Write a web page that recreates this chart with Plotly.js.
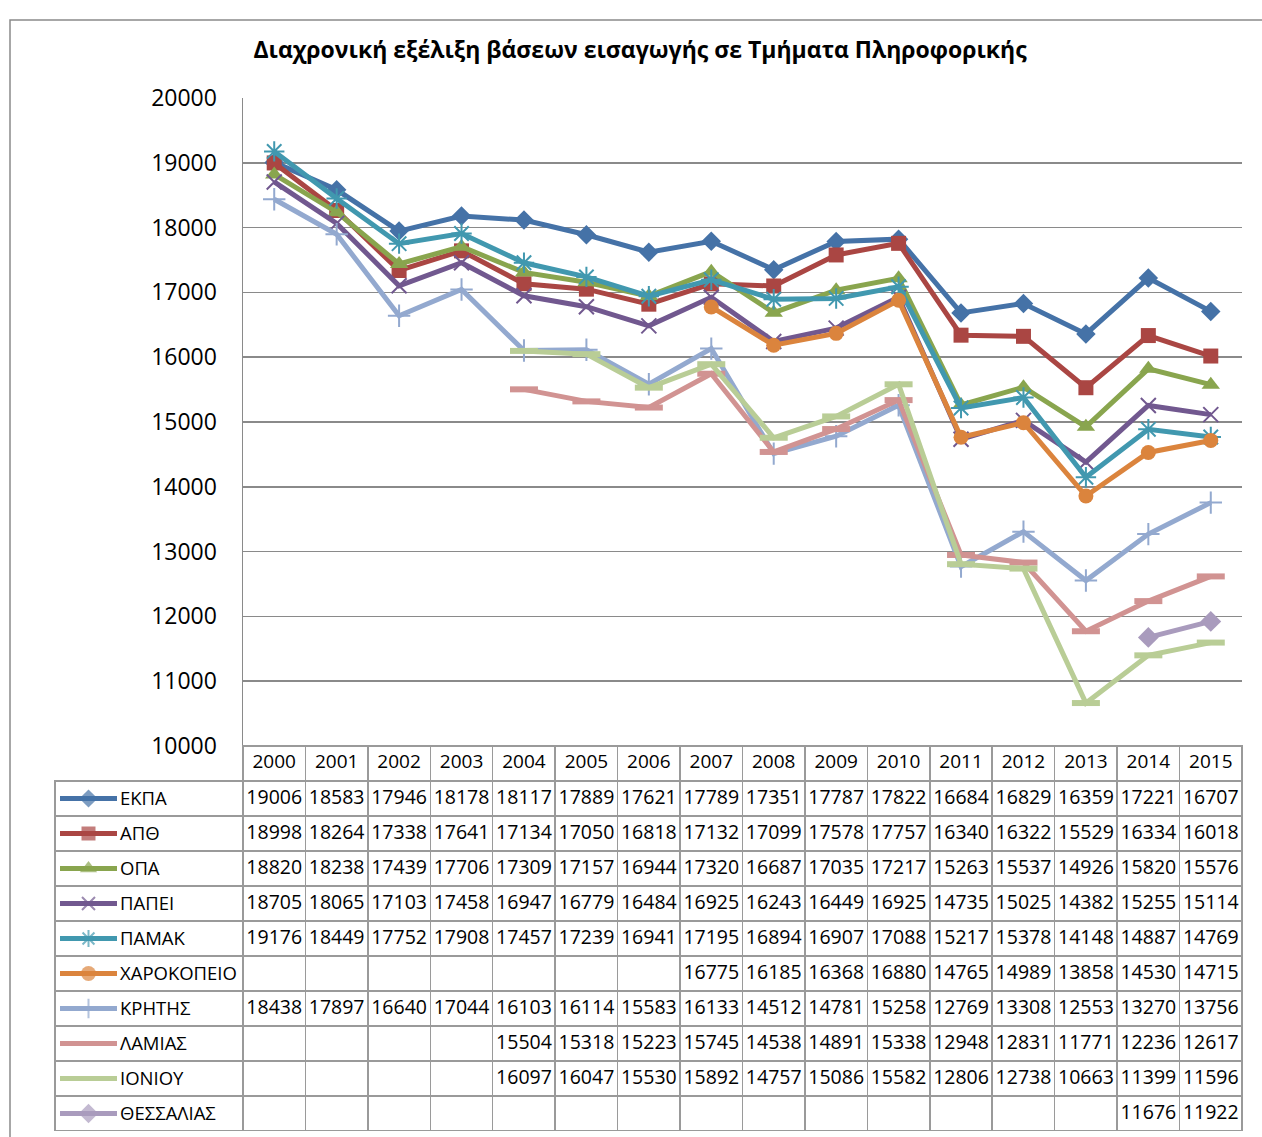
<!DOCTYPE html>
<html>
<head>
<meta charset="utf-8">
<script src="https://cdn.plot.ly/plotly-3.0.1.min.js"></script>
<style>html,body{margin:0;padding:0;background:#fff;}#chart{width:1262px;height:1137px;}</style>
</head>
<body>
<div id="chart"></div>
<script>
const years = ['2000','2001','2002','2003','2004','2005','2006','2007','2008','2009','2010','2011','2012','2013','2014','2015'];
const names = ['ΕΚΠΑ','ΑΠΘ','ΟΠΑ','ΠΑΠΕΙ','ΠΑΜΑΚ','ΧΑΡΟΚΟΠΕΙΟ','ΚΡΗΤΗΣ','ΛΑΜΙΑΣ','ΙΟΝΙΟΥ','ΘΕΣΣΑΛΙΑΣ'];
const ekpa   = [19006,18583,17946,18178,18117,17889,17621,17789,17351,17787,17822,16684,16829,16359,17221,16707];
const apth   = [18998,18264,17338,17641,17134,17050,16818,17132,17099,17578,17757,16340,16322,15529,16334,16018];
const opa    = [18820,18238,17439,17706,17309,17157,16944,17320,16687,17035,17217,15263,15537,14926,15820,15576];
const papei  = [18705,18065,17103,17458,16947,16779,16484,16925,16243,16449,16925,14735,15025,14382,15255,15114];
const pamak  = [19176,18449,17752,17908,17457,17239,16941,17195,16894,16907,17088,15217,15378,14148,14887,14769];
const xarok  = [null,null,null,null,null,null,null,16775,16185,16368,16880,14765,14989,13858,14530,14715];
const kritis = [18438,17897,16640,17044,16103,16114,15583,16133,14512,14781,15258,12769,13308,12553,13270,13756];
const lamias = [null,null,null,null,15504,15318,15223,15745,14538,14891,15338,12948,12831,11771,12236,12617];
const ioniou = [null,null,null,null,16097,16047,15530,15892,14757,15086,15582,12806,12738,10663,11399,11596];
const thess  = [null,null,null,null,null,null,null,null,null,null,null,null,null,null,11676,11922];

const seriesVals = [ekpa, apth, opa, papei, pamak, xarok, kritis, lamias, ioniou, thess];
const colors = ['#4572A7','#AA4643','#89A54E','#71588F','#4198AF','#DB843D','#93A9CF','#D19392','#B9CD96','#A99BBD'];
const symbols = ['diamond','square','triangle-up','x-thin-open','asterisk-open','circle','cross-thin-open','line-ew-open','line-ew-open','diamond'];
const msizes = [15,15,16,15,17,15,16,20,20,16];
const mline = [0,0,0,2,2,0,2,6,6,0];
const iconSizes = [14,14,15,13,14,15,14,0,0,15];

const W = 1262, H = 1137;
const px = v => v / W;
const py = v => (H - v) / H;

const traces = [];
seriesVals.forEach((vals, i) => {
  traces.push({
    type: 'scatter', mode: 'lines+markers', x: years, y: vals, name: names[i],
    line: {color: colors[i], width: 5},
    marker: {symbol: symbols[i], size: msizes[i], color: colors[i],
             line: {color: colors[i], width: mline[i]}},
    connectgaps: false, showlegend: false, hoverinfo: 'x+y+name',
    xaxis: 'x', yaxis: 'y'
  });
});

// legend keys inside the data table
seriesVals.forEach((vals, i) => {
  traces.push({
    type: 'scatter', mode: 'lines+markers', x: [0, 0.5, 1], y: [i, i, i],
    line: {color: colors[i], width: 5},
    marker: {symbol: symbols[i], size: [0, iconSizes[i], 0], color: colors[i],
             line: {color: colors[i], width: mline[i] ? 2 : 0}},
    showlegend: false, hoverinfo: 'skip', xaxis: 'x2', yaxis: 'y2'
  });
});

// data table
const headerVals = [''].concat(years);
const cellVals = [names.map(() => '')].concat(years.map((y, j) => seriesVals.map(s => s[j] == null ? '' : String(s[j]))));
const colW = [188].concat(years.map(() => 62.44));
const lineCol = '#9a9a9a';
traces.push({
  type: 'table',
  domain: {x: [px(55), px(1242)], y: [py(1131), py(746)]},
  columnwidth: colW,
  header: {
    values: headerVals, height: 35, align: 'center',
    fill: {color: 'rgba(0,0,0,0)'},
    line: {color: headerVals.map((v, k) => k === 0 ? 'rgba(0,0,0,0)' : lineCol), width: 1.5},
    font: {family: 'Open Sans', size: 19, color: '#000'}
  },
  cells: {
    values: cellVals, height: 35, align: 'center',
    fill: {color: 'rgba(0,0,0,0)'},
    line: {color: lineCol, width: 1.5},
    font: {family: 'Open Sans', size: 19.5, color: '#000'}
  }
});

const annotations = names.map((n, i) => ({
  xref: 'x2', yref: 'y2', x: 1, y: i, xanchor: 'left', yanchor: 'middle', xshift: 1, yshift: 1,
  text: n, showarrow: false, font: {family: 'Open Sans', size: 18.5, color: '#000'}
}));

const layout = {
  width: W, height: H,
  margin: {l: 0, r: 0, t: 0, b: 0},
  paper_bgcolor: '#fff', plot_bgcolor: 'rgba(0,0,0,0)',
  font: {family: 'Open Sans', color: '#000'},
  title: {text: 'Διαχρονική εξέλιξη βάσεων εισαγωγής σε Τμήματα Πληροφορικής',
          x: px(640), y: py(50), xanchor: 'center', yanchor: 'middle', xref: 'paper', yref: 'paper',
          font: {family: 'Open Sans', size: 23, color: '#000', weight: 'bold'}},
  xaxis: {type: 'category', domain: [px(243), px(1242)], range: [-0.5, 15.5],
          showticklabels: false, showgrid: false, zeroline: false, showline: false, ticks: '',
          fixedrange: true},
  yaxis: {domain: [py(746), py(98)], range: [10000, 20000], dtick: 1000, tick0: 10000,
          tickformat: 'd',
          showgrid: true, gridcolor: '#8a8a8a', gridwidth: 1.5, zeroline: false,
          showline: true, linecolor: '#8a8a8a', linewidth: 1.5,
          ticks: 'outside', ticklen: 20, tickcolor: 'rgba(0,0,0,0)',
          tickfont: {family: 'Open Sans', size: 23, color: '#000'}, fixedrange: true},
  xaxis2: {domain: [px(60), px(117)], range: [0, 1], anchor: 'y2', visible: false, fixedrange: true},
  yaxis2: {domain: [py(1131), py(781)], range: [9.5, -0.5], anchor: 'x2', visible: false, fixedrange: true},
  annotations: annotations,
  shapes: [{type: 'rect', xref: 'paper', yref: 'paper', x0: px(10), x1: 1.02, y0: -0.02, y1: py(20),
            line: {color: '#8a8a8a', width: 1.5}, fillcolor: 'rgba(0,0,0,0)', layer: 'below'}]
};

Plotly.newPlot('chart', traces, layout, {displayModeBar: false, staticPlot: true});
</script>
</body>
</html>
